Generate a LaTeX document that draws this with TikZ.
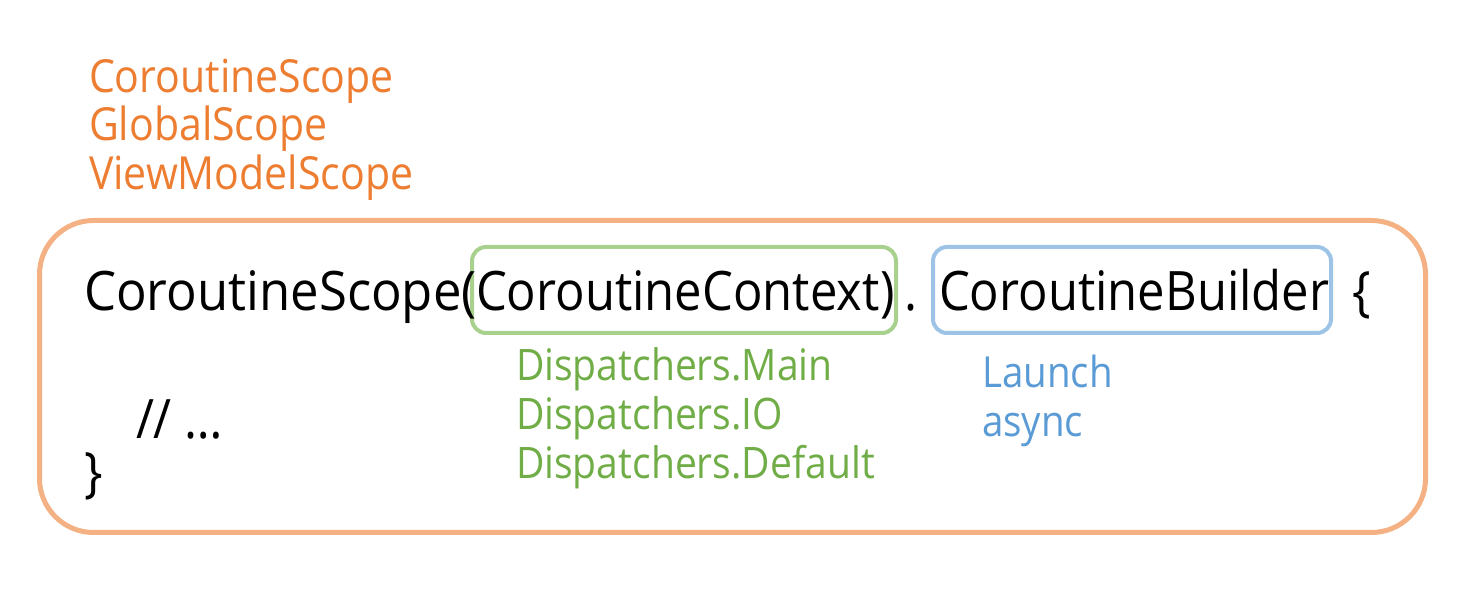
\documentclass[tikz,border=0pt]{standalone}
\usepackage{fontspec}
\setmainfont[FakeStretch=0.9]{Open Sans}
\newfontfamily\widecode[FakeStretch=0.935]{Open Sans}
\definecolor{txtorange}{HTML}{ED7D31}
\definecolor{boxorange}{HTML}{F4B183}
\definecolor{txtgreen}{HTML}{70AD47}
\definecolor{boxgreen}{HTML}{A9D18E}
\definecolor{txtblue}{HTML}{5B9BD5}
\definecolor{boxblue}{HTML}{9DC3E6}
\begin{document}
\begin{tikzpicture}[x=0.5pt,y=-0.5pt,
  txt/.style={anchor=base west, inner sep=0pt, outer sep=0pt},
  code/.style={txt, font=\fontsize{27.2}{32}\selectfont, text=black},
  scopetxt/.style={txt, font=\fontsize{22.8}{26}\selectfont, text=txtorange},
  ctxtxt/.style={txt, font=\fontsize{21.7}{25}\selectfont, text=txtgreen},
  buildtxt/.style={txt, font=\fontsize{21.4}{25}\selectfont, text=txtblue},
  frame/.style={draw, inner sep=0pt, outer sep=0pt, anchor=north west}]
\useasboundingbox (0,0) rectangle (1473,603);
% outer scope box
\node[frame, draw=boxorange, line width=2.5pt, rounded corners=27pt,
      minimum width=693pt, minimum height=156pt] (scopebox) at (39.5,220.5) {};
% context and builder boxes
\node[frame, draw=boxgreen, line width=2pt, rounded corners=7pt,
      minimum width=212pt, minimum height=43pt] (ctxbox) at (472,247) {};
\node[frame, draw=boxblue, line width=2pt, rounded corners=7pt,
      minimum width=199pt, minimum height=43pt] (buildbox) at (933,247) {};
% scope names
\node[scopetxt] (s1) at (89,93) {CoroutineScope};
\node[scopetxt] (s2) at (89,141) {GlobalScope};
\node[scopetxt] (s3) at (89,190) {ViewModelScope};
% code line
\node[code, font=\fontsize{27.2}{32}\widecode] (c1) at (84,311) {CoroutineScope(};
\node[code] (c2) at (476,311) {CoroutineContext};
\node[code] (c2p) at (880,311) {)};
\node[code] (c3) at (904,311) {.};
\node[code] (c4) at (939,311) {CoroutineBuilder};
\node[code] (c5) at (1352,311) {\{};
\node[code] (c6) at (136,439) {// …};
\node[code] (c7) at (84,492) {\}};
% dispatchers
\node[ctxtxt] (d1) at (516,381) {Dispatchers.Main};
\node[ctxtxt] (d2) at (516,430) {Dispatchers.IO};
\node[ctxtxt] (d3) at (516,479) {Dispatchers.Default};
% builders
\node[buildtxt] (b1) at (982,388) {Launch};
\node[buildtxt] (b2) at (982,437) {async};
\end{tikzpicture}
\end{document}
